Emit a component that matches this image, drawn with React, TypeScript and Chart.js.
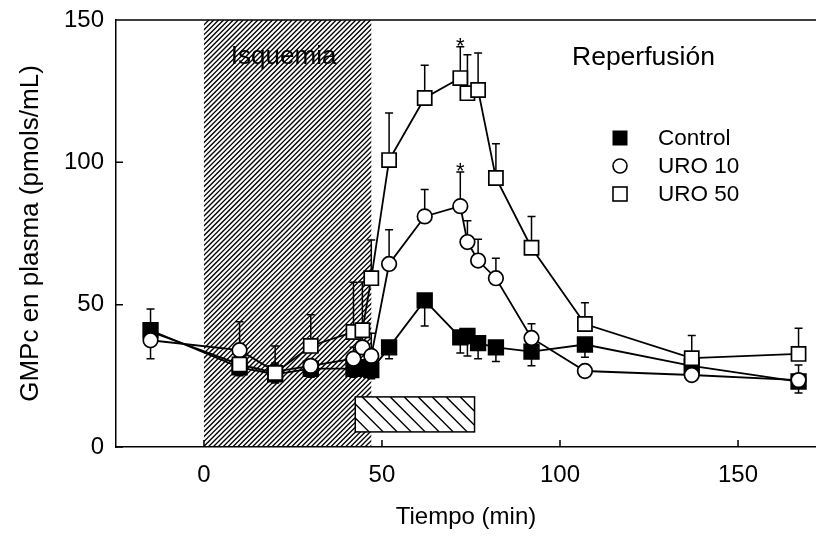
import React, { useEffect, useRef } from "react";
import { Chart, registerables } from "chart.js";

Chart.register(...registerables);

// Sampling times (min) shared by all three groups
const TIMES = [-15, 10, 20, 30, 42, 44.5, 47, 52, 62, 72, 74, 77, 82, 92, 107, 137, 167];

// Plasma cGMP (pmols/mL), mean and SEM
const CONTROL = [41, 28, 25.5, 27.5, 27.5, 28, 27, 35, 51.5, 38.5, 39, 36.5, 35, 33.5, 36, 28.5, 23];
const CONTROL_ERR_UP = [7.5, 0, 0, 0, 0, 0, 0, 0, 0, 0, 0, 0, 0, 0, 0, 0, 0];
const CONTROL_ERR_DOWN = [0, 3, 3, 3, 3, 3, 3, 4, 9, 5.5, 7, 5.5, 5, 5, 4.5, 3, 4];

const URO10 = [37.5, 34, 26.5, 28.5, 31, 35, 32, 64.3, 81, 84.6, 72, 65.5, 59.3, 38.3, 26.7, 25.3, 23.5];
const URO10_ERR_UP = [0, 10, 3, 2, 4, 4, 8, 12, 9.5, 12, 7.5, 7.5, 7, 5, 1.5, 2, 5.3];
const URO10_ERR_DOWN = [6.5, 0, 0, 0, 0, 0, 0, 0, 0, 0, 0, 0, 0, 0, 0, 0, 0];

const URO50 = [40.5, 29, 26, 35.5, 40.4, 41, 59.3, 100.8, 122.6, 129.6, 124.3, 125.4, 94.5, 70, 43.2, 31.2, 32.7];
const URO50_ERR_UP = [0, 3, 9.5, 11, 17.5, 17, 13.4, 16.5, 11.5, 11, 13.5, 13, 12, 11, 7.5, 8, 9];
const URO50_ERR_DOWN = [0, 0, 0, 0, 0, 0, 0, 0, 0, 0, 0, 0, 0, 0, 0, 0, 0];

// Time points marked as significant (*)
const STARS_URO10 = [72];
const STARS_URO50 = [72];

// Ischemia period and urodilatin infusion period (min), infusion bar height range
const ISCHEMIA = [0, 47];
const INFUSION = [42.5, 76];
const INFUSION_BAR = [5.3, 17.6];

const X_TICKS = [0, 50, 100, 150];
const Y_TICKS = [0, 50, 100, 150];

const FONT = "'Liberation Sans', Arial, Helvetica, sans-serif";
const INK = "#000";

type Series = {
  label: string;
  values: number[];
  up: number[];
  down: number[];
};

const SERIES: Series[] = [
  { label: "Control", values: CONTROL, up: CONTROL_ERR_UP, down: CONTROL_ERR_DOWN },
  { label: "URO 10", values: URO10, up: URO10_ERR_UP, down: URO10_ERR_DOWN },
  { label: "URO 50", values: URO50, up: URO50_ERR_UP, down: URO50_ERR_DOWN },
];

const decorations = {
  id: "decorations",
  beforeDatasetsDraw(chart: any) {
    const { ctx, chartArea: a, scales } = chart;
    const x = scales.x;
    const y = scales.y;

    // ischemia band, dense forward hatch
    const ix0 = x.getPixelForValue(ISCHEMIA[0]);
    const ix1 = x.getPixelForValue(ISCHEMIA[1]);
    const h = a.bottom - a.top;
    ctx.save();
    ctx.beginPath();
    ctx.rect(ix0, a.top, ix1 - ix0, h);
    ctx.clip();
    ctx.beginPath();
    ctx.strokeStyle = INK;
    ctx.lineWidth = 1.35;
    for (let sx = ix0 - h; sx < ix1 + 6; sx += 4.9) {
      ctx.moveTo(sx, a.bottom);
      ctx.lineTo(sx + h, a.top);
    }
    ctx.stroke();
    ctx.restore();

    // infusion bar, white with back hatch
    const bx0 = x.getPixelForValue(INFUSION[0]);
    const bx1 = x.getPixelForValue(INFUSION[1]);
    const by0 = y.getPixelForValue(INFUSION_BAR[1]);
    const by1 = y.getPixelForValue(INFUSION_BAR[0]);
    const bh = by1 - by0;
    ctx.save();
    ctx.fillStyle = "#fff";
    ctx.fillRect(bx0, by0, bx1 - bx0, bh);
    ctx.beginPath();
    ctx.rect(bx0, by0, bx1 - bx0, bh);
    ctx.clip();
    ctx.beginPath();
    ctx.strokeStyle = INK;
    ctx.lineWidth = 1.4;
    for (let sx = bx0 - bh; sx < bx1 + 4; sx += 14) {
      ctx.moveTo(sx, by0);
      ctx.lineTo(sx + bh, by1);
    }
    ctx.stroke();
    ctx.restore();
    ctx.save();
    ctx.strokeStyle = INK;
    ctx.lineWidth = 1.5;
    ctx.strokeRect(bx0, by0, bx1 - bx0, bh);
    ctx.restore();

    // error bars
    ctx.save();
    ctx.strokeStyle = INK;
    ctx.lineWidth = 1.5;
    ctx.beginPath();
    SERIES.forEach((s) => {
      TIMES.forEach((t, i) => {
        const px = x.getPixelForValue(t);
        const py = y.getPixelForValue(s.values[i]);
        if (s.up[i] > 0) {
          const ey = y.getPixelForValue(s.values[i] + s.up[i]);
          ctx.moveTo(px, py);
          ctx.lineTo(px, ey);
          ctx.moveTo(px - 4, ey);
          ctx.lineTo(px + 4, ey);
        }
        if (s.down[i] > 0) {
          const ey = y.getPixelForValue(s.values[i] - s.down[i]);
          ctx.moveTo(px, py);
          ctx.lineTo(px, ey);
          ctx.moveTo(px - 4, ey);
          ctx.lineTo(px + 4, ey);
        }
      });
    });
    ctx.stroke();
    ctx.restore();

    // frame top and inward tick marks
    ctx.save();
    ctx.strokeStyle = INK;
    ctx.lineWidth = 1.5;
    ctx.beginPath();
    ctx.moveTo(a.left, a.top);
    ctx.lineTo(a.right, a.top);
    X_TICKS.forEach((v) => {
      const px = x.getPixelForValue(v);
      ctx.moveTo(px, a.bottom);
      ctx.lineTo(px, a.bottom - 7);
    });
    Y_TICKS.forEach((v) => {
      const py = y.getPixelForValue(v);
      ctx.moveTo(a.left, py);
      ctx.lineTo(a.left + 7, py);
    });
    ctx.stroke();
    ctx.restore();
  },
  afterDatasetsDraw(chart: any) {
    const { ctx, chartArea: a, scales } = chart;
    const x = scales.x;
    const y = scales.y;
    ctx.save();
    ctx.fillStyle = INK;

    // significance stars above the error caps
    ctx.font = `22px ${FONT}`;
    ctx.textAlign = "center";
    ctx.textBaseline = "alphabetic";
    const star = (s: Series, times: number[]) => {
      times.forEach((t) => {
        const i = TIMES.indexOf(t);
        const top = y.getPixelForValue(s.values[i] + s.up[i]);
        ctx.fillText("*", x.getPixelForValue(t), top + 6);
      });
    };
    star(SERIES[1], STARS_URO10);
    star(SERIES[2], STARS_URO50);

    // period labels
    ctx.font = `26px ${FONT}`;
    ctx.textAlign = "center";
    const mid = (x.getPixelForValue(ISCHEMIA[0]) + x.getPixelForValue(ISCHEMIA[1])) / 2;
    ctx.fillText("Isquemia", mid - 4, a.top + 44);
    ctx.textAlign = "left";
    ctx.font = `26.5px ${FONT}`;
    ctx.fillText("Reperfusión", 572, a.top + 45);

    // legend
    const lx = 620;
    const rows = [138, 166, 194];
    ctx.lineWidth = 1.6;
    ctx.strokeStyle = INK;
    ctx.fillRect(lx - 7.5, rows[0] - 7.5, 15, 15);
    ctx.beginPath();
    ctx.arc(lx, rows[1], 7, 0, Math.PI * 2);
    ctx.fillStyle = "#fff";
    ctx.fill();
    ctx.stroke();
    ctx.fillRect(lx - 7, rows[2] - 7, 14, 14);
    ctx.strokeRect(lx - 7, rows[2] - 7, 14, 14);
    ctx.fillStyle = INK;
    ctx.font = `22.5px ${FONT}`;
    ctx.textBaseline = "middle";
    SERIES.forEach((s, k) => ctx.fillText(s.label, 658, rows[k] + 1));
    ctx.restore();
  },
};

export default function App() {
  const ref = useRef<HTMLCanvasElement | null>(null);

  useEffect(() => {
    if (!ref.current) return;
    const pts = (vals: number[]) => TIMES.map((t, i) => ({ x: t, y: vals[i] }));
    const chart = new Chart(ref.current, {
      type: "line",
      data: {
        datasets: [
          {
            label: SERIES[0].label,
            data: pts(CONTROL),
            borderColor: INK,
            backgroundColor: INK,
            pointBackgroundColor: INK,
            pointBorderColor: INK,
            pointStyle: "rect",
            pointRadius: 10.5,
            pointBorderWidth: 1.5,
            borderWidth: 1.8,
            order: 3,
          },
          {
            label: SERIES[1].label,
            data: pts(URO10),
            borderColor: INK,
            pointBackgroundColor: "#fff",
            pointBorderColor: INK,
            pointStyle: "circle",
            pointRadius: 7.3,
            pointBorderWidth: 1.7,
            borderWidth: 1.8,
            order: 2,
          },
          {
            label: SERIES[2].label,
            data: pts(URO50),
            borderColor: INK,
            pointBackgroundColor: "#fff",
            pointBorderColor: INK,
            pointStyle: "rect",
            pointRadius: TIMES.map((_, i) => (i === 0 ? 0 : 10)),
            pointBorderWidth: 1.7,
            borderWidth: 1.8,
            order: 1,
          },
        ],
      },
      options: {
        animation: false,
        responsive: false,
        events: [],
        layout: { autoPadding: false, padding: { top: 20, right: 0, bottom: 0, left: 0 } },
        plugins: { legend: { display: false }, tooltip: { enabled: false } },
        scales: {
          x: {
            type: "linear",
            min: -24.7,
            max: 171.9,
            afterBuildTicks: (s: any) => {
              s.ticks = X_TICKS.map((v) => ({ value: v }));
            },
            afterFit: (s: any) => {
              s.height = 95;
              s.paddingLeft = 0;
              s.paddingRight = 0;
            },
            grid: { display: false, drawTicks: false },
            border: { display: true, color: INK, width: 1.5 },
            ticks: { color: INK, font: { family: FONT, size: 24 }, padding: 14, maxRotation: 0 },
            title: {
              display: true,
              text: "Tiempo (min)",
              color: INK,
              font: { family: FONT, size: 24 },
              padding: { top: 0, bottom: 10 },
            },
          },
          y: {
            type: "linear",
            min: 0,
            max: 150,
            afterBuildTicks: (s: any) => {
              s.ticks = Y_TICKS.map((v) => ({ value: v }));
            },
            afterFit: (s: any) => {
              s.width = 116;
              s.paddingTop = 0;
              s.paddingBottom = 0;
            },
            grid: { display: false, drawTicks: false },
            border: { display: true, color: INK, width: 1.5 },
            ticks: { color: INK, font: { family: FONT, size: 24 }, padding: 12 },
            title: {
              display: true,
              text: "GMPc en plasma (pmols/mL)",
              color: INK,
              font: { family: FONT, size: 26 },
              padding: { top: 15, bottom: 0 },
            },
          },
        },
      },
      plugins: [decorations],
    });
    return () => chart.destroy();
  }, []);

  return (
    <div style={{ position: "absolute", left: 0, top: 0, width: 816, height: 542, background: "#fff" }}>
      <canvas ref={ref} width={816} height={542} />
    </div>
  );
}
